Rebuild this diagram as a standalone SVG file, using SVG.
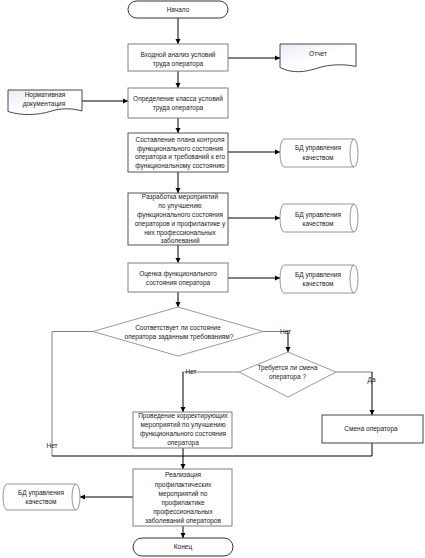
<svg xmlns="http://www.w3.org/2000/svg" width="425" height="558" viewBox="0 0 425 558">
<defs>
<marker id="ah" markerWidth="6" markerHeight="6" refX="5" refY="3" orient="auto" markerUnits="userSpaceOnUse">
<path d="M0,0.5 L5,3 L0,5.5 Z" fill="#000"/>
</marker>
<linearGradient id="docg" x1="0" y1="0" x2="1" y2="1">
<stop offset="0" stop-color="#e8ecf6"/>
<stop offset="0.5" stop-color="#ffffff"/>
</linearGradient>
</defs>
<style>
.box{fill:#fff;stroke:#7f7f7f;stroke-width:1}
.dia{fill:#fff;stroke:#9a9a9a;stroke-width:1}
.term{fill:#fff;stroke:#333;stroke-width:1}
.cyl{fill:#fff;stroke:#8a8a8a;stroke-width:0.9}
.doc{fill:url(#docg);stroke:#333;stroke-width:0.9}
text{font-family:"Liberation Sans",Arial,sans-serif;font-size:6.5px;fill:#222;text-anchor:middle}
.c{fill:none;stroke:#000;stroke-width:1}
.cg{fill:none;stroke:#808080;stroke-width:1}
.ca{fill:none;stroke:#000;stroke-width:1;marker-end:url(#ah)}
</style>
<g id="connectors">
<path class="ca" d="M178,18 V44"/>
<path class="ca" d="M228,58 H280"/>
<path class="ca" d="M178,71 V88"/>
<path class="ca" d="M82,101 H128"/>
<path class="ca" d="M178,118 V133"/>
<path class="ca" d="M228,152 H280"/>
<path class="ca" d="M178,172 V193"/>
<path class="ca" d="M228,218 H280"/>
<path class="ca" d="M178,245 V263"/>
<path class="ca" d="M228,278 H280"/>
<path class="ca" d="M178,292 V307"/>
<path class="cg" d="M93,331.5 H52 V456"/>
<path class="c" d="M52,456 H372 V443"/>
<path class="cg" d="M263,331.5 H288"/>
<path class="ca" d="M288,331.5 V352"/>
<path class="cg" d="M239,372 H183"/>
<path class="ca" d="M183,372 V412"/>
<path class="cg" d="M336,372 H372"/>
<path class="ca" d="M372,372 V415"/>
<path class="ca" d="M183,448 V469"/>
<path class="ca" d="M133,497 H80"/>
<path class="ca" d="M183,526 V538"/>
<text x="285.5" y="334">Нет</text>
<text x="191" y="374.3">Нет</text>
<text x="371.5" y="382.3">Да</text>
<text x="52" y="448.3">Нет</text>
</g>
<g id="start">
<rect class="term" x="128" y="1" width="100" height="17" rx="8.5"/>
<text x="178" y="12.3">Начало</text>
</g>
<g id="n1">
<rect class="box" x="128" y="44" width="100" height="27"/>
<text x="178" y="56.8">Входной анализ условий</text>
<text x="178" y="65.8">труда оператора</text>
</g>
<g id="report">
<path class="doc" d="M280,44 H356 V66.5 C345,64 330,64 318,68 C305,72 293,74 280,67.5 Z"/>
<text x="318" y="56.3">Отчет</text>
</g>
<g id="normdoc">
<path class="doc" d="M8,90 H82 V111 C72,108 60,108 50,111.5 C38,115 22,116 8,111.5 Z"/>
<text x="45" y="97.3">Нормативная</text>
<text x="44" y="106.3">документация</text>
</g>
<g id="n2">
<rect class="box" x="128" y="88" width="100" height="30"/>
<text x="178" y="100.6">Определение класса условий</text>
<text x="178" y="110">труда оператора</text>
</g>
<g id="n3">
<rect class="box" x="128" y="133" width="100" height="39" style="stroke:#555"/>
<text x="180" y="142.3">Составление плана контроля</text>
<text x="180" y="150.8">функционального состояния</text>
<text x="180" y="159.3">оператора и требований к его</text>
<text x="180" y="167.8">функциональному состоянию</text>
</g>
<g id="db1">
<path class="cyl" d="M284,139 H354 A4,14 0 0 1 354,167 H284 A4,14 0 0 1 284,139 Z M354,139 A4,14 0 0 0 354,167"/>
<text x="318" y="149.6">БД управления</text>
<text x="318" y="159.6">качеством</text>
</g>
<g id="n4">
<rect class="box" x="128" y="193" width="100" height="52" style="stroke:#555"/>
<text x="180" y="199.3">Разработка мероприятий</text>
<text x="180" y="208.1">по улучшению</text>
<text x="180" y="216.9">функционального состояния</text>
<text x="180" y="225.7">операторов и профилактике у</text>
<text x="180" y="234.5">них профессиональных</text>
<text x="180" y="243.3">заболеваний</text>
</g>
<g id="db2">
<path class="cyl" d="M284,204 H354 A4,14 0 0 1 354,232 H284 A4,14 0 0 1 284,204 Z M354,204 A4,14 0 0 0 354,232"/>
<text x="318" y="217.3">БД управления</text>
<text x="318" y="226.3">качеством</text>
</g>
<g id="n5">
<rect class="box" x="128" y="263" width="100" height="29"/>
<text x="178" y="276.3">Оценка функционального</text>
<text x="178" y="285.3">состояния оператора</text>
</g>
<g id="db3">
<path class="cyl" d="M284,265 H354 A4,14 0 0 1 354,293 H284 A4,14 0 0 1 284,265 Z M354,265 A4,14 0 0 0 354,293"/>
<text x="318" y="277.3">БД управления</text>
<text x="318" y="285.6">качеством</text>
</g>
<g id="d1">
<polygon class="dia" points="178,307 263,331.5 178,356 93,331.5"/>
<text x="178" y="330">Соответствует ли состояние</text>
<text x="179" y="339">оператора заданным требованиям?</text>
</g>
<g id="d2">
<polygon class="dia" points="288,352 336,372 288,397 239,372"/>
<text x="287.5" y="370">Требуется ли смена</text>
<text x="287.5" y="379">оператора ?</text>
</g>
<g id="n6">
<rect class="box" x="133" y="412" width="99" height="36"/>
<text x="183" y="418.3">Проведение корректирующих</text>
<text x="183" y="427.1">мероприятий по улучшению</text>
<text x="183" y="435.9">функционального состояния</text>
<text x="183" y="444.7">оператора</text>
</g>
<g id="n7">
<rect class="box" x="322" y="415" width="101" height="28" style="stroke:#444"/>
<text x="371" y="431.3">Смена оператора</text>
</g>
<g id="n8">
<rect class="box" x="133" y="469" width="99" height="57"/>
<text x="183" y="477.3">Реализация</text>
<text x="183" y="486.6">профилактических</text>
<text x="183" y="495.6">мероприятий по</text>
<text x="183" y="504.6">профилактике</text>
<text x="183" y="514">профессиональных</text>
<text x="183" y="523.3">заболеваний операторов</text>
</g>
<g id="db4">
<path class="cyl" d="M7,484 H76 A4,13 0 0 1 76,510 H7 A4,13 0 0 1 7,484 Z M76,484 A4,13 0 0 0 76,510"/>
<text x="41" y="495.3">БД управления</text>
<text x="41" y="504">качеством</text>
</g>
<g id="end">
<rect class="term" x="133" y="538" width="100" height="18" rx="9"/>
<text x="183" y="549.3">Конец</text>
</g>
</svg>
